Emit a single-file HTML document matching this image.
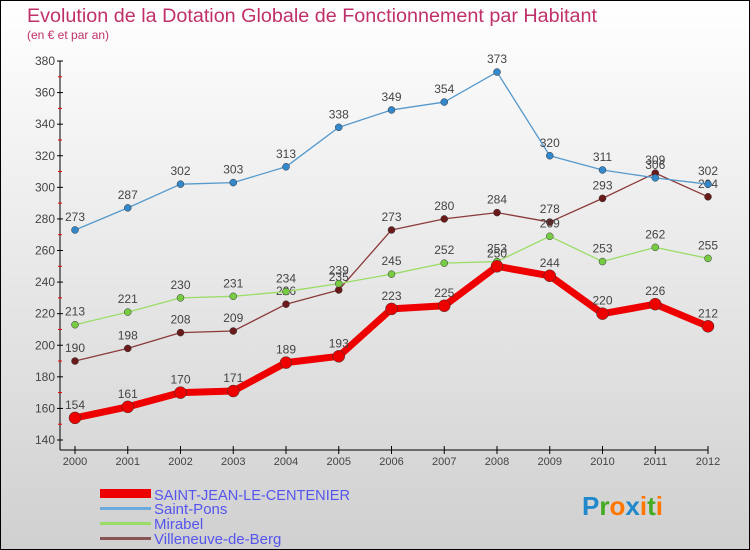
<!DOCTYPE html>
<html><head><meta charset="utf-8"><style>
body{margin:0}
svg{display:block;font-family:"Liberation Sans","DejaVu Sans",sans-serif}
</style></head><body>
<svg id="c" width="750" height="550" xmlns="http://www.w3.org/2000/svg">
<defs><linearGradient id="bg" x1="0" y1="0" x2="0" y2="1"><stop offset="0" stop-color="#ffffff"/><stop offset="1" stop-color="#d0d0d0"/></linearGradient></defs>
<rect x="0.5" y="0.5" width="749" height="549" fill="url(#bg)" stroke="#000"/>
<text x="27" y="22" font-size="19" fill="#c0306a" textLength="570" lengthAdjust="spacingAndGlyphs">Evolution de la Dotation Globale de Fonctionnement par Habitant</text>
<text x="27" y="39" font-size="12" fill="#c0306a">(en € et par an)</text>
<g id="axes"></g><g id="series"></g>
<g font-size="15" fill="#5555ee">
<rect x="100" y="489" width="51" height="9" fill="#ee0000"/>
<text x="154" y="500" textLength="196" lengthAdjust="spacingAndGlyphs">SAINT-JEAN-LE-CENTENIER</text>
<rect x="100" y="507" width="51" height="3" fill="#6aaadd"/>
<text x="154" y="514">Saint-Pons</text>
<rect x="100" y="522" width="51" height="3" fill="#99dd66"/>
<text x="154" y="529">Mirabel</text>
<rect x="100" y="537" width="51" height="3" fill="#885555"/>
<text x="154" y="544">Villeneuve-de-Berg</text>
</g>
<text x="582" y="515" font-size="26" font-weight="bold"><tspan fill="#2288cc">P</tspan><tspan fill="#44aa22">r</tspan><tspan fill="#ff7700">o</tspan><tspan fill="#2288cc">x</tspan><tspan fill="#ff7700">i</tspan><tspan fill="#44aa22">t</tspan><tspan fill="#ff7700">i</tspan></text>
</svg>
<script>
const years=[2000,2001,2002,2003,2004,2005,2006,2007,2008,2009,2010,2011,2012];
const saintJean=[154,161,170,171,189,193,223,225,250,244,220,226,212];
const saintPons=[273,287,302,303,313,338,349,354,373,320,311,306,302];
const mirabel=[213,221,230,231,234,239,245,252,253,269,253,262,255];
const villeneuve=[190,198,208,209,226,235,273,280,284,278,293,309,294];
const yTicks=[140,160,180,200,220,240,260,280,300,320,340,360,380];
const NS="http://www.w3.org/2000/svg";
const x=i=>75+i*(708-75)/12;
const y=v=>440-(v-140)*(440-61)/240;
function mk(t,a,p){const e=document.createElementNS(NS,t);for(const k in a)e.setAttribute(k,a[k]);p.appendChild(e);return e;}
const ax=document.getElementById('axes');
let e=mk('line',{x1:60,y1:61,x2:60,y2:450,stroke:'#000'},ax);


e=mk('line',{x1:60,y1:450,x2:708,y2:450,stroke:'#000'},ax);


yTicks.forEach(v=>{
 mk('line',{x1:57,y1:y(v),x2:63,y2:y(v),stroke:'#000'},ax);
 const t=mk('text',{x:55,y:y(v)+4,'text-anchor':'end','font-size':12,fill:'#444'},ax);
 t.textContent=v;
 
 
 if(v<380)mk('line',{x1:58,y1:y(v+10),x2:62,y2:y(v+10),stroke:'#e00'},ax);
});
years.forEach((yr,i)=>{
 mk('line',{x1:x(i),y1:446,x2:x(i),y2:454,stroke:'#000'},ax);
 const t=mk('text',{x:x(i),y:465,'text-anchor':'middle','font-size':11,fill:'#444'},ax);
 t.textContent=yr;
 
 
});
const sg=document.getElementById('series');
function draw(name,vals,color,w,r,dot){
 const g=mk('g',{},sg);
 
 
 const l=mk('polyline',{points:vals.map((v,i)=>x(i)+','+y(v)).join(' '),fill:'none',stroke:color,'stroke-width':w,'stroke-linejoin':'round'},g);
 
 
 vals.forEach((v,i)=>{
  const c=mk('circle',{cx:x(i),cy:y(v),r:r,fill:dot,stroke:'#333','stroke-width':0.5},g);
  
  
  const t=mk('text',{x:x(i),y:y(v)-9,'text-anchor':'middle','font-size':12,fill:'#444'},g);
  t.textContent=v;
  
  
 });
}
draw('villeneuve',villeneuve,'#8b3a3a',1.3,3.5,'#6a1a1a');
draw('mirabel',mirabel,'#99dd66',1.3,3.5,'#77cc44');
draw('saint-pons',saintPons,'#5599cc',1.3,3.5,'#3388cc');
draw('saint-jean',saintJean,'#ee0000',7,6,'#ee0000');
</script>
</body></html>
